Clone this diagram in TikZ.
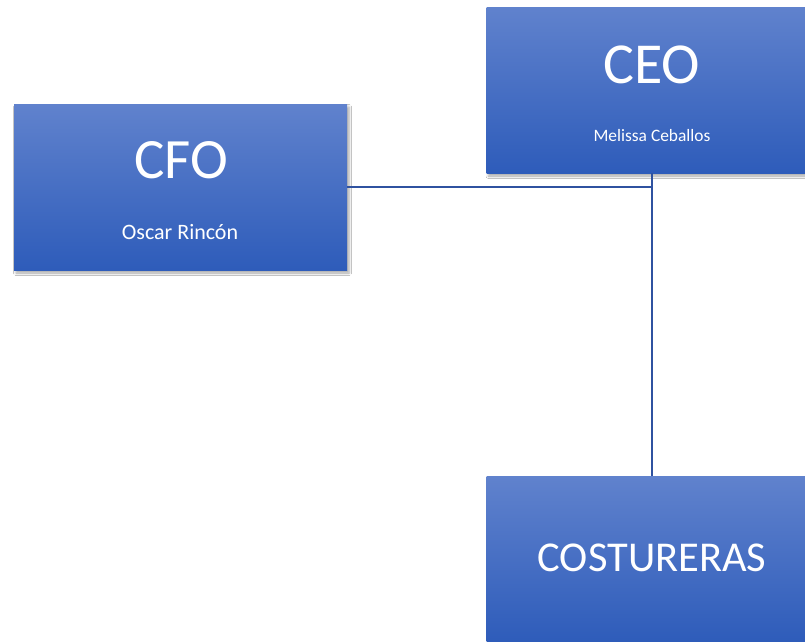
\documentclass[tikz,border=0pt]{standalone}
\usepackage{fontspec}
\setmainfont{Carlito}
\usetikzlibrary{positioning,shadows.blur}
\definecolor{boxtop}{RGB}{96,130,205}
\definecolor{boxbottom}{RGB}{46,92,186}
\definecolor{linkblue}{RGB}{47,82,160}
\tikzset{
  rolebox/.style = {rectangle, minimum width = 331pt, minimum height = 166pt, inner sep = 0pt,
    top color = boxtop, bottom color = boxbottom, draw = none,
    blur shadow = {shadow xshift = 2pt, shadow yshift = -3pt, shadow blur radius = 2.5pt, shadow opacity = 35}},
  roletitle/.style = {text = white, anchor = base, inner sep = 0pt, font = \fontsize{58}{58}\selectfont},
  rolename/.style = {text = white, anchor = base, inner sep = 0pt, font = \fontsize{17.4}{17.4}\selectfont},
  link/.style = {draw = linkblue, line width = 1.3pt}
}
\begin{document}
\begin{tikzpicture}[x = 1pt, y = -1pt]
\useasboundingbox (0,0) rectangle (805,641);
\clip (0,0) rectangle (805,641);
\fill[white] (0,0) rectangle (805,641);
% boxes
\node[rolebox] (ceo) at (652,90) {};
\node[rolebox, minimum width = 333pt] (cfo) at (180.5,187) {};
\node[rolebox] (cost) at (652,559) {};
% texts
\node[roletitle] (ceotitle) at (652,83) {CEO};
\node[rolename] (ceoname) at (652,141) {Melissa Ceballos};
\node[roletitle, font = \fontsize{57}{57}\selectfont] (cfotitle) at (181,178) {CFO};
\node[rolename, font = \fontsize{22}{22}\selectfont] (cfoname) at (180,239) {Oscar Rincón};
\node[roletitle, font = \fontsize{42.5}{42.5}\selectfont] (costtitle) at (652,571) {COSTURERAS};
% connectors
\draw[link] (ceo.south) -- (cost.north);
\draw[link] (cfo.east) -- (cfo.east -| ceo.south);
\end{tikzpicture}
\end{document}
